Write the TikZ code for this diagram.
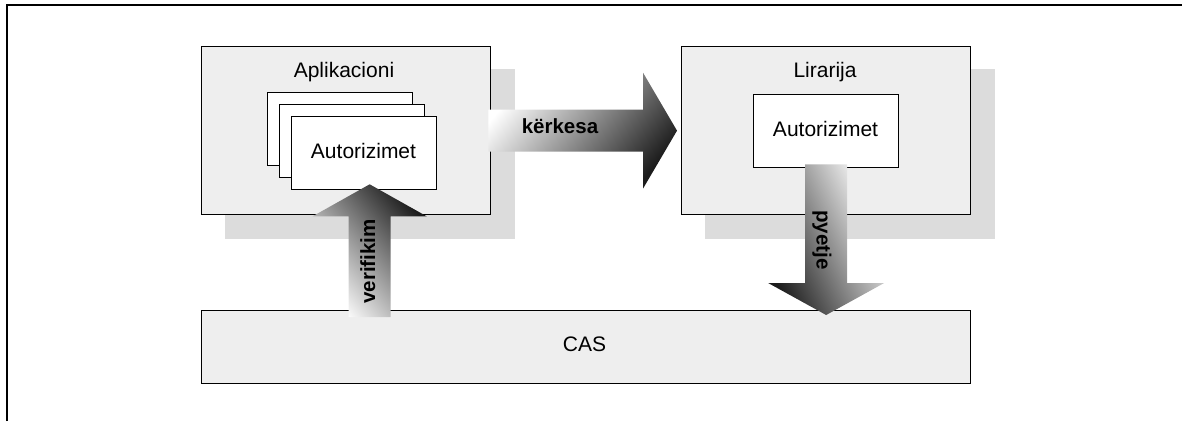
\documentclass[tikz,border=0pt]{standalone}
\usepackage{fontspec}
\setmainfont{Liberation Sans}
\usetikzlibrary{calc}
\definecolor{panelfill}{HTML}{EEEEEE}
\definecolor{shadowfill}{HTML}{DCDCDC}
\definecolor{arrowdark}{HTML}{1C1C1C}
\begin{document}
\begin{tikzpicture}[x=1pt,y=-1pt,
  txt/.style={font=\fontsize{21}{25}\selectfont, inner sep=0pt, anchor=base},
  txtb/.style={font=\bfseries\fontsize{20.5}{25}\selectfont, inner sep=0pt, anchor=base},
  panel/.style={draw=black, line width=1.3pt, fill=panelfill, anchor=north west, inner sep=0pt},
  shadowbox/.style={fill=shadowfill, draw=none, anchor=north west, inner sep=0pt},
  bigpanel/.style={panel, minimum width=289pt, minimum height=168pt},
  bigshadow/.style={shadowbox, minimum width=290pt, minimum height=170pt},
  card/.style={draw=black, line width=1.3pt, fill=white, anchor=north west,
    inner sep=0pt, minimum width=145pt, minimum height=73pt},
]
\useasboundingbox (0,0) rectangle (1182,421);

% outer frame
\draw[line width=2pt] (7,421) -- (7,5) -- (1182,5);

% drop shadows and panels
\node[bigshadow] (appsh) at (225,69) {};
\node[bigshadow] (libsh) at (705,69) {};
\node[bigpanel] (app) at (201,46) {};
\node[bigpanel] (lib) at (681,46) {};
\node[panel, minimum width=769pt, minimum height=73pt] (cas) at (201,310) {};

% stacked authorisation cards inside the application
\node[card] (back) at (267,92) {};
\node[card] (mid) at (279,104) {};
\node[card] (front) at (291,116) {};
% authorisation card inside the library
\node[card] (libcard) at (753,94) {};

% arrow end points
\coordinate (kA) at ([xshift=-3pt]app.east);
\coordinate (kB) at ([xshift=-4pt]lib.west);
\coordinate (vB) at ([xshift=5.5pt,yshift=6pt]front.south);
\coordinate (vC) at (vB |- cas.north);
\coordinate (vA) at ([yshift=-7pt]vC);
\coordinate (pA) at ([yshift=4pt]libcard.south);
\coordinate (pC) at (pA |- cas.north);
\coordinate (pB) at ([yshift=-5pt]pC);

% request arrow: application -> library
\shade[left color=white, right color=arrowdark, shading angle=50]
  ($(kA)+(0,-21)$) -- ($(kB)+(-34,-21)$) -- ($(kB)+(-34,-58)$) -- (kB)
  -- ($(kB)+(-34,58)$) -- ($(kB)+(-34,21)$) -- ($(kA)+(0,21)$) -- cycle;

% verification arrow: CAS -> application
\shade[left color=white, right color=arrowdark, shading angle=130]
  ($(vA)+(-21,0)$) -- ($(vB)+(-21,32)$) -- ($(vB)+(-57,32)$) -- (vB)
  -- ($(vB)+(57,32)$) -- ($(vB)+(21,32)$) -- ($(vA)+(21,0)$) -- cycle;

% query arrow: library -> CAS
\shade[left color=white, right color=arrowdark, shading angle=-65]
  ($(pA)+(-21,0)$) -- ($(pB)+(-21,-32)$) -- ($(pB)+(-58,-32)$) -- (pB)
  -- ($(pB)+(58,-32)$) -- ($(pB)+(21,-32)$) -- ($(pA)+(21,0)$) -- cycle;

% labels
\node[txt] (apptitle) at (344,77.7) {Aplikacioni};
\node[txt] (libtitle) at (825,77) {Lirarija};
\node[txt] (fronttxt) at (363.5,158.3) {Autorizimet};
\node[txt] (libcardtxt) at (825.5,136.3) {Autorizimet};
\node[txt] (castxt) at (584.5,351.7) {CAS};
\node[txtb] (ktxt) at (560,133.3) {kërkesa};
\node[txtb, rotate=90] (vtxt) at (375,261.5) {verifikim};
\node[txtb, rotate=-90] (ptxt) at (816.5,240) {pyetje};
\end{tikzpicture}
\end{document}
